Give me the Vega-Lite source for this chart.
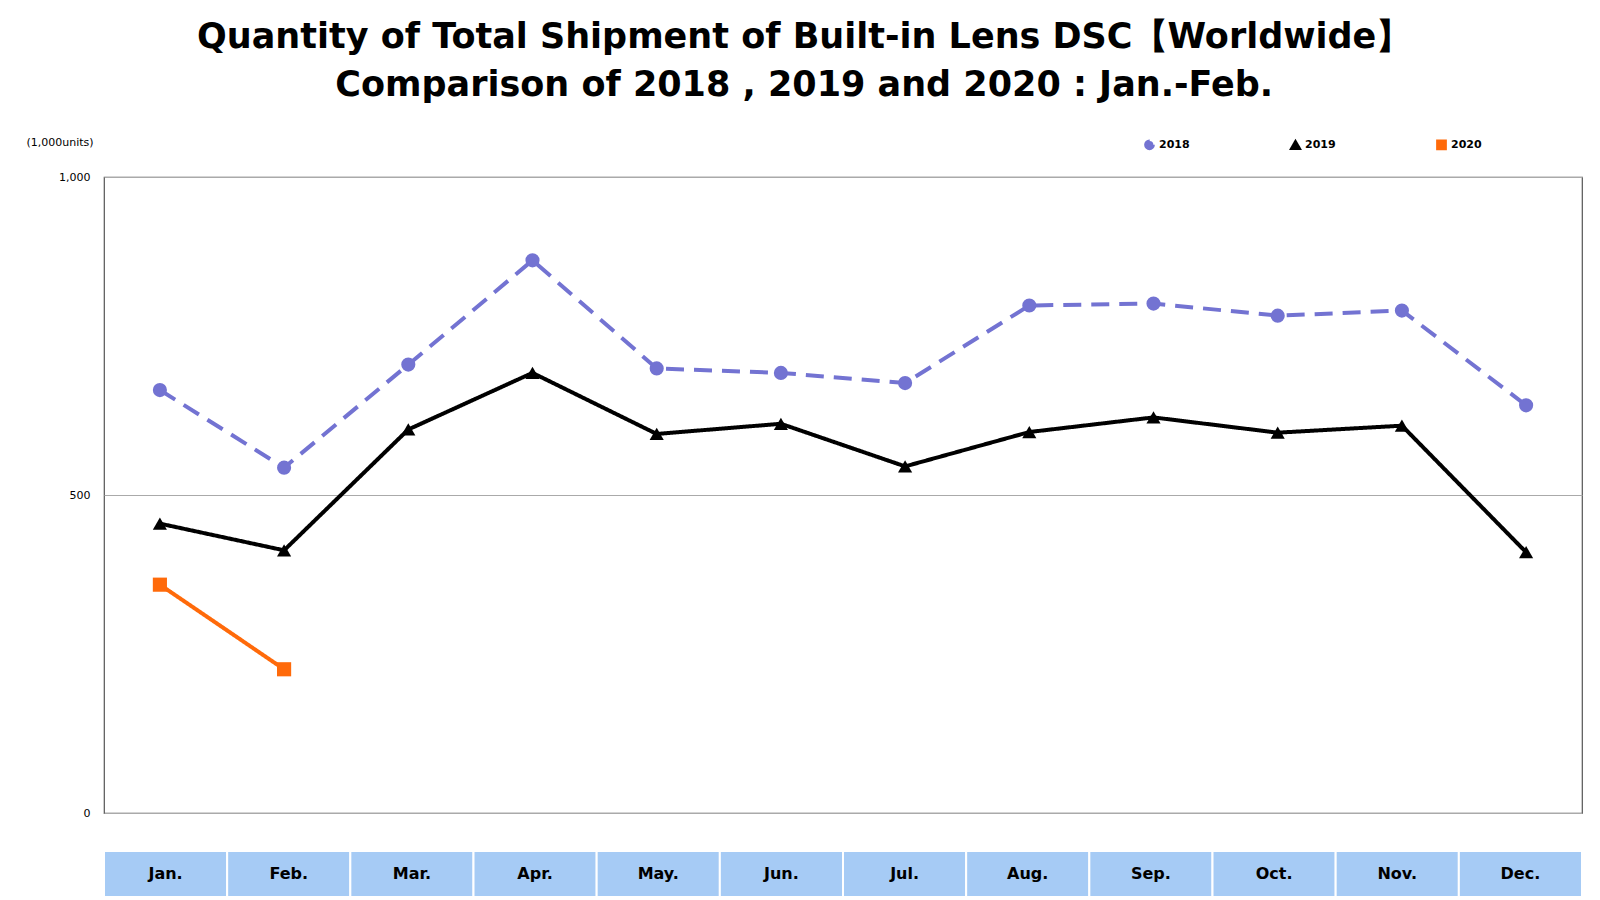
{
  "$schema": "https://vega.github.io/schema/vega-lite/v6.json",
  "background": "#ffffff",
  "padding": {"left": 25, "top": 20, "right": 2, "bottom": 0},
  "title": {
    "text": ["Quantity of Total Shipment of Built-in Lens DSC【Worldwide】", "Comparison of 2018 , 2019 and 2020 : Jan.-Feb."],
    "fontSize": 35, "font": "DejaVu Sans", "fontWeight": "bold", "color": "#000000",
    "anchor": "middle", "lineHeight": 48, "offset": 32
  },
  "config": {
    "font": "DejaVu Sans",
    "view": {"stroke": "#555555", "strokeWidth": 1.2}
  },
  "datasets": {
    "ship": [
      {"month": "Jan.", "year": "2018", "units": 665},
      {"month": "Feb.", "year": "2018", "units": 543},
      {"month": "Mar.", "year": "2018", "units": 705},
      {"month": "Apr.", "year": "2018", "units": 869},
      {"month": "May.", "year": "2018", "units": 699},
      {"month": "Jun.", "year": "2018", "units": 692},
      {"month": "Jul.", "year": "2018", "units": 676},
      {"month": "Aug.", "year": "2018", "units": 798},
      {"month": "Sep.", "year": "2018", "units": 801},
      {"month": "Oct.", "year": "2018", "units": 782},
      {"month": "Nov.", "year": "2018", "units": 790},
      {"month": "Dec.", "year": "2018", "units": 641},
      {"month": "Jan.", "year": "2019", "units": 455},
      {"month": "Feb.", "year": "2019", "units": 413},
      {"month": "Mar.", "year": "2019", "units": 603},
      {"month": "Apr.", "year": "2019", "units": 692},
      {"month": "May.", "year": "2019", "units": 596},
      {"month": "Jun.", "year": "2019", "units": 612},
      {"month": "Jul.", "year": "2019", "units": 545},
      {"month": "Aug.", "year": "2019", "units": 599},
      {"month": "Sep.", "year": "2019", "units": 622},
      {"month": "Oct.", "year": "2019", "units": 598},
      {"month": "Nov.", "year": "2019", "units": 609},
      {"month": "Dec.", "year": "2019", "units": 410},
      {"month": "Jan.", "year": "2020", "units": 359},
      {"month": "Feb.", "year": "2020", "units": 226}
    ],
    "months": [
      {"month": "Jan."}, {"month": "Feb."}, {"month": "Mar."}, {"month": "Apr."},
      {"month": "May."}, {"month": "Jun."}, {"month": "Jul."}, {"month": "Aug."},
      {"month": "Sep."}, {"month": "Oct."}, {"month": "Nov."}, {"month": "Dec."}
    ]
  },
  "vconcat": [
    {
      "width": 1478,
      "height": 636,
      "data": {"name": "ship"},
      "encoding": {
        "x": {
          "field": "month", "type": "ordinal", "sort": null,
          "scale": {"type": "point", "padding": 0.45},
          "axis": null
        },
        "y": {
          "field": "units", "type": "quantitative",
          "scale": {"domain": [0, 1000]},
          "axis": {
            "values": [0, 500, 1000], "format": ",d", "title": "(1,000units)",
            "titleAngle": 0, "titleX": -78, "titleY": -30, "titleAlign": "left",
            "titleFontWeight": "normal", "titleFontSize": 11,
            "labelFontSize": 11, "labelColor": "#000000", "ticks": false, "domain": false,
            "gridColor": "#aaaaaa", "labelPadding": 14
          }
        },
        "color": {
          "field": "year", "type": "nominal",
          "scale": {"domain": ["2018", "2019", "2020"], "range": ["#7373D2", "#000000", "#FF6A0A"]},
          "legend": {
            "orient": "none", "legendX": 1040, "legendY": -38, "direction": "horizontal",
            "title": null, "labelFontSize": 11, "labelFontWeight": "bold", "symbolSize": 60,
            "columnPadding": 95, "symbolType": "stroke", "symbolStrokeWidth": 3
          }
        },
        "strokeDash": {
          "field": "year", "type": "nominal",
          "scale": {"domain": ["2018", "2019", "2020"], "range": [[18, 10], [1, 0], [1, 0]]},
          "legend": null
        },
        "shape": {
          "field": "year", "type": "nominal",
          "scale": {"domain": ["2018", "2019", "2020"], "range": ["circle", "triangle-up", "square"]},
          "legend": null
        }
      },
      "layer": [
        {"mark": {"type": "line", "strokeWidth": 4}},
        {"mark": {"type": "point", "filled": true, "opacity": 1, "size": 200}}
      ]
    },
    {
      "width": 1478,
      "height": 46,
      "view": {"stroke": null},
      "data": {"name": "months"},
      "encoding": {
        "x": {
          "field": "month", "type": "ordinal", "sort": null,
          "scale": {"type": "band", "paddingInner": 0, "paddingOuter": 0},
          "axis": null
        }
      },
      "layer": [
        {"mark": {"type": "rect", "color": "#A6CBF5", "stroke": "#ffffff", "strokeWidth": 2}},
        {"mark": {"type": "text", "fontSize": 16, "fontWeight": "bold", "color": "#000000"}, "encoding": {"text": {"field": "month"}}}
      ]
    }
  ],
  "spacing": 38,
  "bounds": "flush"
}
